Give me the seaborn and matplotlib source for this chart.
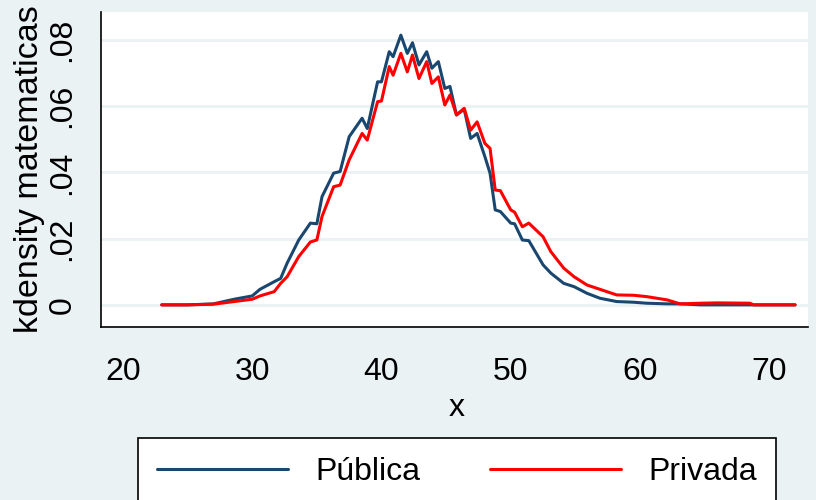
import matplotlib
matplotlib.use("Agg")
import matplotlib.pyplot as plt
import seaborn as sns
import pandas as pd

# densidad estimada
x_vals = [23.0, 25.0, 27.0, 28.6, 30.0, 30.6, 31.7, 32.2, 32.7, 33.6,
          34.5, 35.0, 35.4, 36.3, 36.8, 37.5, 38.5, 38.9, 39.7, 40.0,
          40.6, 40.9, 41.5, 42.0, 42.4, 42.9, 43.5, 43.9, 44.4, 44.9,
          45.3, 45.8, 46.4, 46.9, 47.4, 48.0, 48.4, 48.8, 49.2, 50.0,
          50.3, 50.9, 51.4, 52.5, 53.1, 54.1, 54.9, 55.9, 56.9, 58.2,
          59.5, 60.5, 62.1, 63.1, 64.7, 66.0, 68.5, 68.8, 72.0]
publica = [0.0, 0.0, 0.0003, 0.0017, 0.0027, 0.0047, 0.0070, 0.0080, 0.0126, 0.0196,
           0.0247, 0.0245, 0.0327, 0.0398, 0.0403, 0.0508, 0.0564, 0.0533, 0.0674, 0.0674,
           0.0765, 0.0750, 0.0815, 0.0760, 0.0792, 0.0725, 0.0765, 0.0715, 0.0735, 0.0654,
           0.0660, 0.0574, 0.0591, 0.0503, 0.0518, 0.0448, 0.0398, 0.0287, 0.0282, 0.0247,
           0.0245, 0.0196, 0.0194, 0.0121, 0.0096, 0.0065, 0.0055, 0.0035, 0.0020, 0.0010,
           0.0008, 0.0005, 0.0003, 0.0003, 0.0, 0.0, 0.0, 0.0, 0.0]
privada = [0.0, 0.0, 0.0002, 0.0010, 0.0017, 0.0027, 0.0040, 0.0065, 0.0085, 0.0146,
           0.0190, 0.0196, 0.0267, 0.0357, 0.0362, 0.0438, 0.0518, 0.0498, 0.0614, 0.0616,
           0.0720, 0.0694, 0.0760, 0.0704, 0.0755, 0.0684, 0.0735, 0.0669, 0.0689, 0.0604,
           0.0634, 0.0574, 0.0594, 0.0528, 0.0553, 0.0488, 0.0473, 0.0347, 0.0345, 0.0287,
           0.0280, 0.0236, 0.0247, 0.0206, 0.0161, 0.0111, 0.0085, 0.0060, 0.0047, 0.0030,
           0.0029, 0.0025, 0.0015, 0.0003, 0.0005, 0.0006, 0.0005, 0.0, 0.0]
groups = ["Pública", "Privada"]
x_ticks = [20, 30, 40, 50, 60, 70]
y_ticks = [0, 0.02, 0.04, 0.06, 0.08]
y_ticklabels = ["0", ".02", ".04", ".06", ".08"]

n = len(x_vals)
df = pd.DataFrame({
    "x": x_vals * 2,
    "density": publica + privada,
    "tipo": [groups[0]] * n + [groups[1]] * n,
})

bg = "#EAF2F3"
sns.set_style("white")
plt.rcParams["font.family"] = ["Liberation Sans", "DejaVu Sans"]
plt.rcParams["text.color"] = "black"
plt.rcParams["axes.labelcolor"] = "black"
plt.rcParams["xtick.color"] = "black"
plt.rcParams["ytick.color"] = "black"

fig = plt.figure(figsize=(8.16, 5), dpi=100, facecolor=bg)
ax = fig.add_axes([101 / 816, 173.3 / 500, 707 / 816, 314.7 / 500])
ax.set_facecolor("white")

sns.lineplot(data=df, x="x", y="density", hue="tipo", hue_order=groups,
             palette={"Pública": "#1A476F", "Privada": "#FF0000"},
             linewidth=2.2, estimator=None, sort=False, ax=ax, legend=False)

ax.set_xlim(18.3, 73.0)
ax.set_ylim(-0.0066, 0.0885)
ax.set_xticks(x_ticks)
ax.set_yticks(y_ticks)
ax.set_yticklabels(y_ticklabels, rotation=90, va="center")
ax.tick_params(axis="both", length=13, width=1.2, color="black",
               labelcolor="black", labelsize=23)
ax.tick_params(axis="x", pad=9)
ax.tick_params(axis="y", pad=4)

ax.yaxis.grid(True, color=bg, linewidth=2.2)
ax.xaxis.grid(False)
ax.set_axisbelow(True)
sns.despine(ax=ax)
for side in ["left", "bottom"]:
    ax.spines[side].set_color("black")
    ax.spines[side].set_linewidth(1.2)

ax.set_xlabel("x", fontsize=23)
ax.set_ylabel("kdensity matematicas", fontsize=24.5)
ax.xaxis.set_label_coords((457 - 101) / 707, (326.7 - 393) / 314.7)
ax.yaxis.set_label_coords((45 - 101) / 707, 0.5)

leg = ax.legend(ax.get_lines()[:2], groups, loc="center",
                bbox_to_anchor=(457 / 816, 28 / 500), bbox_transform=fig.transFigure,
                ncol=2, frameon=True, fancybox=False, framealpha=1,
                edgecolor="black", fontsize=23, handlelength=4.1,
                handletextpad=0.87, columnspacing=2.15, borderpad=0.6)
leg.get_frame().set_linewidth(1.2)
for line in leg.get_lines():
    line.set_linewidth(2.2)

fig.savefig("out.png", dpi=100, facecolor=bg)
